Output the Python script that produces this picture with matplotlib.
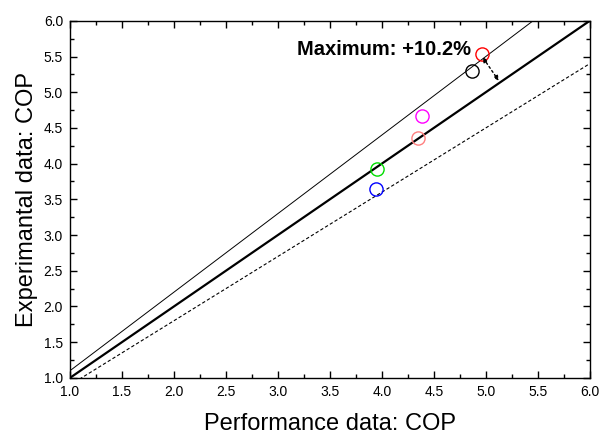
import matplotlib
matplotlib.use("Agg")
import matplotlib.pyplot as plt
import numpy as np
from matplotlib.ticker import MultipleLocator

plt.rcParams['font.family'] = ['Liberation Sans', 'DejaVu Sans']

perf_x = [4.96, 4.87, 4.39, 4.35, 3.95, 3.94]
exp_y = [5.54, 5.30, 4.67, 4.36, 3.93, 3.65]
colors = ['#ff0000', '#000000', '#ff00ff', '#ff8080', '#00dd00', '#0000ff']

line_x = [1.0, 6.0]
upper_factor = 1.1
lower_factor = 0.9
annot_text = "Maximum: +10.2%"

fig = plt.figure(figsize=(6.03, 4.43), dpi=100)
ax = fig.add_axes([0.116, 0.147, 0.862, 0.806])

xs = np.array(line_x)
ax.plot(xs, xs, color='black', lw=1.6)
ax.plot(xs, upper_factor * xs, color='black', lw=0.7)
ax.plot(xs, lower_factor * xs, color='black', lw=0.8, ls=(0, (3, 2)))

for x, y, c in zip(perf_x, exp_y, colors):
    ax.plot(x, y, 'o', mfc='none', mec=c, ms=9.5, mew=1.0)

ax.annotate('', xy=(5.125, 5.16), xytext=(4.97, 5.49),
            arrowprops=dict(arrowstyle='<|-|>', color='black', lw=1.0,
                            ls=(0, (1.5, 2)), mutation_scale=7,
                            shrinkA=0, shrinkB=0))
ax.text(4.86, 5.6, annot_text, ha='right', va='center', fontsize=14.5,
        fontweight='bold')

ax.set_xlim(1.0, 6.0)
ax.set_ylim(1.0, 6.0)
ax.xaxis.set_major_locator(MultipleLocator(0.5))
ax.yaxis.set_major_locator(MultipleLocator(0.5))
ax.xaxis.set_minor_locator(MultipleLocator(0.25))
ax.yaxis.set_minor_locator(MultipleLocator(0.25))
ax.xaxis.set_major_formatter(plt.FormatStrFormatter('%.1f'))
ax.yaxis.set_major_formatter(plt.FormatStrFormatter('%.1f'))
ax.tick_params(which='both', direction='in', top=True, right=True, labelsize=10)
ax.tick_params(which='major', length=5, width=1, pad=5)
ax.tick_params(which='minor', length=3, width=1)
for s in ax.spines.values():
    s.set_linewidth(1.0)

ax.set_xlabel('Performance data: COP', fontsize=17, labelpad=10)
ax.set_ylabel('Experimantal data: COP', fontsize=17, labelpad=4)

fig.savefig('out.png', dpi=100)
